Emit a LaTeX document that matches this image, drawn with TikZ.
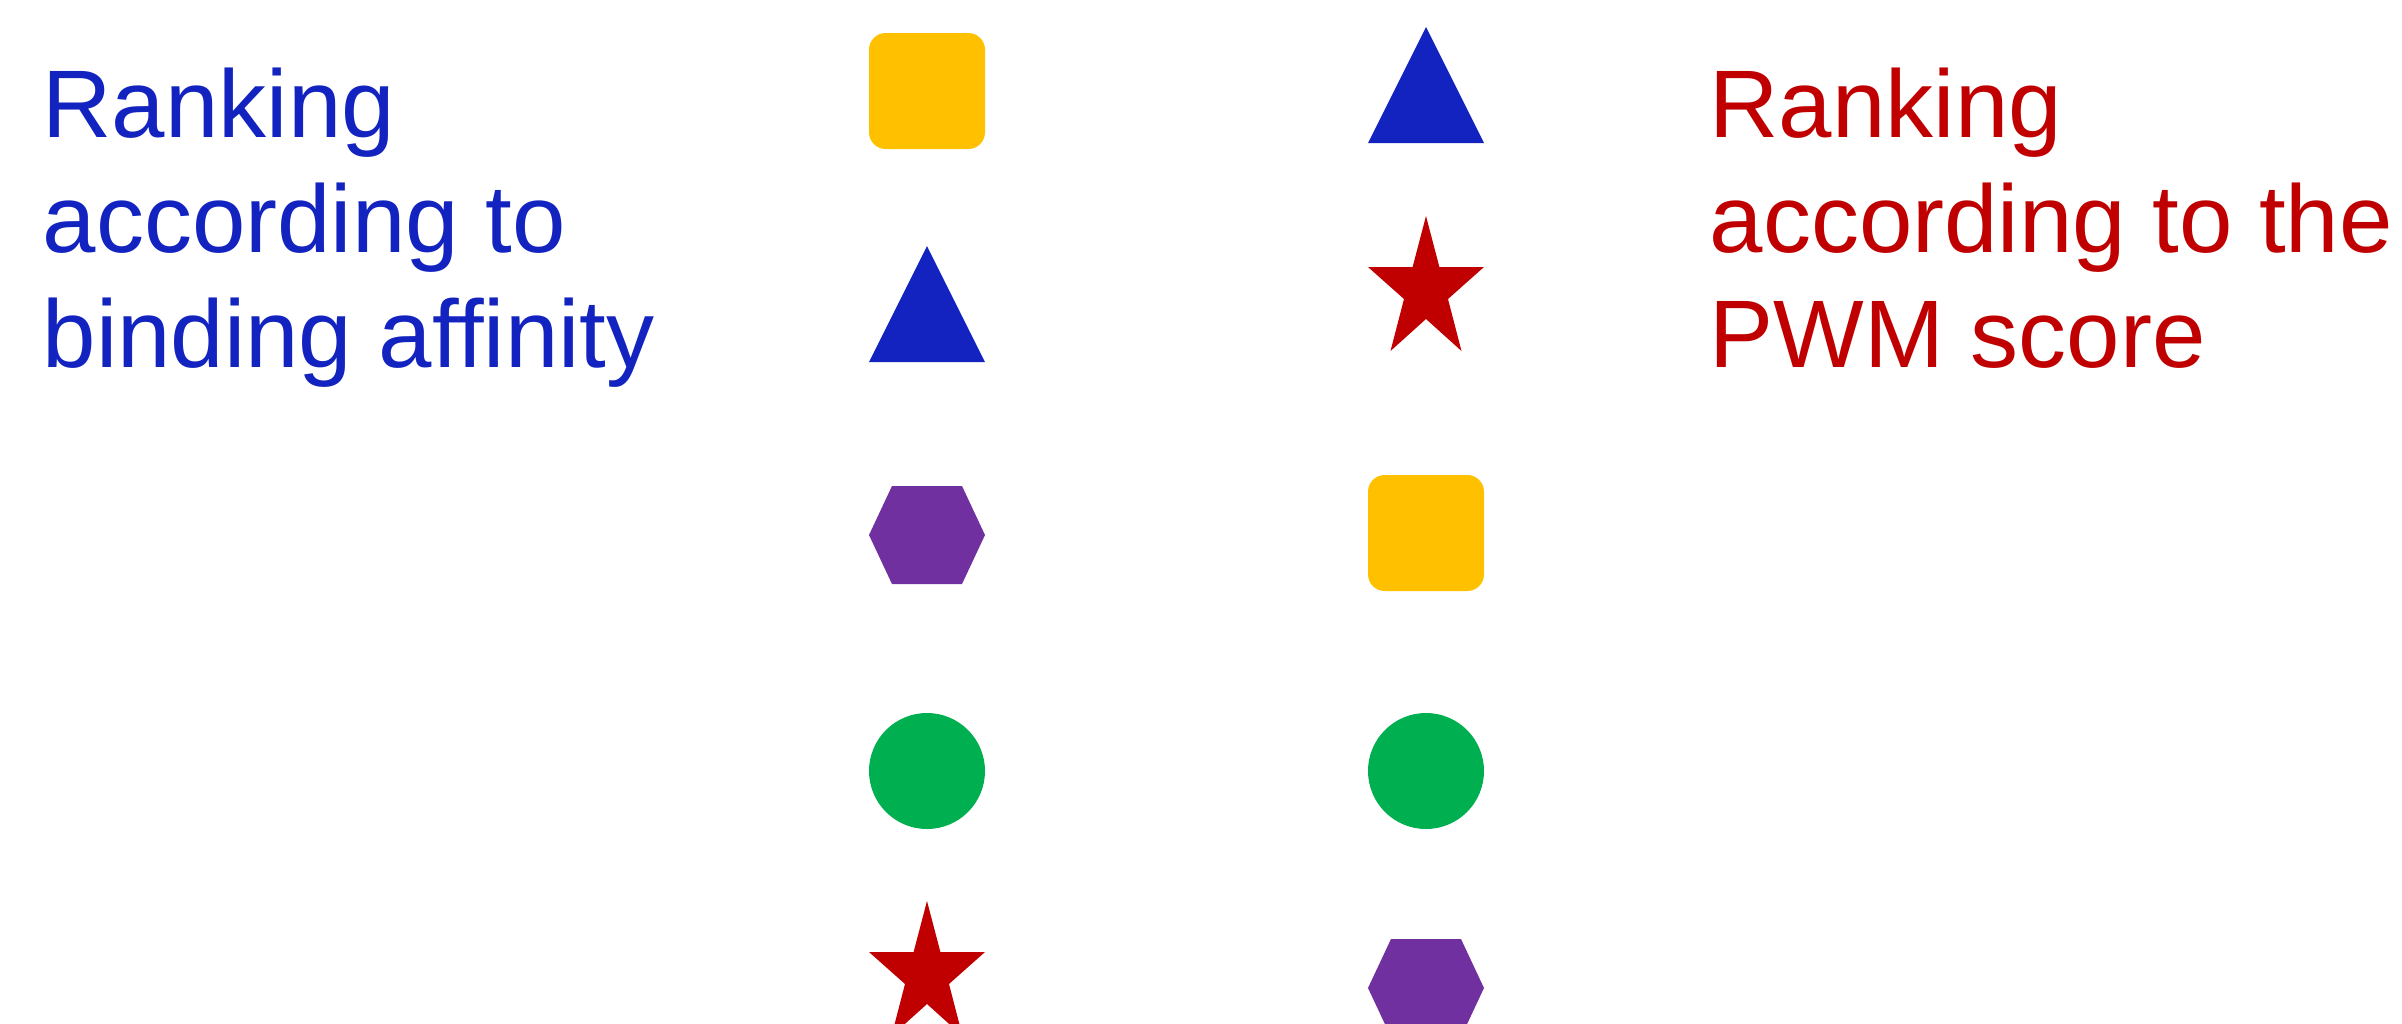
\documentclass[tikz,border=0pt]{standalone}
\usepackage{fontspec}
\setmainfont{Liberation Sans}
\usetikzlibrary{positioning}

\definecolor{affblue}{HTML}{1323C0}
\definecolor{pwmred}{HTML}{C00000}
\definecolor{shpyellow}{HTML}{FFC000}
\definecolor{shppurple}{HTML}{7030A0}
\definecolor{shpgreen}{HTML}{00B050}

\begin{document}
\begin{tikzpicture}[
  x=0.3pt, y=-0.3pt,
  heading/.style={anchor=north west,inner sep=0pt,align=left,font=\fontsize{28.8}{34.5}\selectfont},
  sqshape/.pic={\path[pic actions,rounded corners=5pt] (-58,-58) rectangle (58,58);},
  trishape/.pic={\path[pic actions] (0,-58) -- (58,58) -- (-58,58) -- cycle;},
  hexshape/.pic={\path[pic actions] (-58,0) -- (-35,-49) -- (35,-49) -- (58,0) -- (35,49) -- (-35,49) -- cycle;},
  circshape/.pic={\path[pic actions] (0,0) circle[radius=58];},
  starshape/.pic={\path[pic actions] (0,-67.5) -- (13.4,-16.5) -- (58,-16.5) -- (22,15.5) -- (35.5,67.5)
    -- (0,35.5) -- (-35.5,67.5) -- (-22,15.5) -- (-58,-16.5) -- (-13.4,-16.5) -- cycle;}
]
  \useasboundingbox (0,0) rectangle (2402,1023);

  % headings
  \node[heading,text=affblue] (afftitle) at (42,67) {Ranking\\according to\\binding affinity};
  \node[heading,text=pwmred] (pwmtitle) at (1709,67) {Ranking\\according to the\\PWM score};

  % ranking by affinity
  \pic[fill=shpyellow] (affsq) at (927,91) {sqshape};
  \pic[fill=affblue] (afftri) at (927,304) {trishape};
  \pic[fill=shppurple] (affhex) at (927,535) {hexshape};
  \pic[fill=shpgreen] (affcirc) at (927,771) {circshape};
  \pic[fill=pwmred] (affstar) at (927,968.5) {starshape};

  % ranking by PWM score
  \pic[fill=affblue] (pwmtri) at (1426,85) {trishape};
  \pic[fill=pwmred] (pwmstar) at (1426,283.5) {starshape};
  \pic[fill=shpyellow] (pwmsq) at (1426,533) {sqshape};
  \pic[fill=shpgreen] (pwmcirc) at (1426,771) {circshape};
  \pic[fill=shppurple] (pwmhex) at (1426,988) {hexshape};
\end{tikzpicture}
\end{document}
